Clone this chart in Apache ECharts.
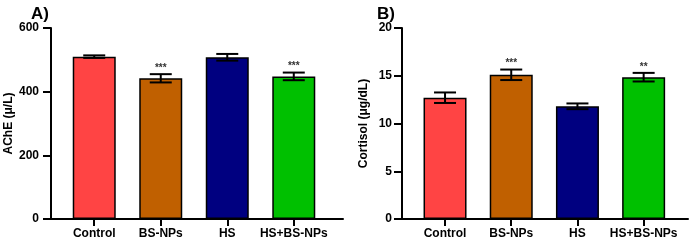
<!DOCTYPE html>
<html>
<head>
<meta charset="utf-8">
<script src="https://cdn.jsdelivr.net/npm/echarts@6/dist/echarts.min.js"></script>
<style>
  html, body { margin: 0; padding: 0; background: #fff; }
  #main { width: 690px; height: 242px; }
</style>
</head>
<body>
<div id="main"></div>
<script>
var categories = ["Control", "BS-NPs", "HS", "HS+BS-NPs"];
var barColors = ["#FF4444", "#C06000", "#000080", "#00C000"];

// A) AChE
var acheMean = [510, 442, 508, 448];
var acheErr = [4, 13, 10.5, 12];
var acheSig = ["", "***", "", "***"];
var acheTicks = [0, 200, 400, 600];

// B) Cortisol
var cortMean = [12.7, 15.1, 11.8, 14.85];
var cortErr = [0.55, 0.55, 0.3, 0.45];
var cortSig = ["", "***", "", "**"];
var cortTicks = [0, 5, 10, 15, 20];

var FONT = "Liberation Sans, Arial, sans-serif";
var positions = categories.map(function (c, i) { return i + 1; });

function barData(means) {
  return means.map(function (v, i) {
    return { value: [i + 1, v], itemStyle: { color: barColors[i] } };
  });
}
function errData(means, errs, sig) {
  return means.map(function (v, i) {
    return [i + 1, v - errs[i], v + errs[i], sig[i]];
  });
}

// error bar + significance stars
function errRender(params, api) {
  var x = api.value(0);
  var lo = api.coord([x, api.value(1)]);
  var hi = api.coord([x, api.value(2)]);
  var half = 11;
  var style = { stroke: "#000", lineWidth: 2 };
  var children = [
    { type: "line", shape: { x1: hi[0], y1: hi[1], x2: lo[0], y2: lo[1] }, style: style },
    { type: "line", shape: { x1: hi[0] - half, y1: hi[1], x2: hi[0] + half, y2: hi[1] }, style: style },
    { type: "line", shape: { x1: lo[0] - half, y1: lo[1], x2: lo[0] + half, y2: lo[1] }, style: style }
  ];
  var s = api.value(3);
  if (s) {
    children.push({
      type: "text",
      style: {
        text: s, x: hi[0], y: hi[1] - 1,
        align: "center", verticalAlign: "bottom",
        fill: "#333", font: "bold 10px " + FONT
      }
    });
  }
  return { type: "group", children: children };
}

function xAxisCfg(gridIndex, min, max) {
  return {
    type: "value", gridIndex: gridIndex, min: min, max: max,
    splitLine: { show: false },
    axisLine: { show: true, onZero: false, lineStyle: { color: "#000", width: 2 } },
    axisTick: { show: true, customValues: positions, length: 7, lineStyle: { color: "#000", width: 2 } },
    axisLabel: {
      customValues: positions, margin: 9,
      color: "#000", fontWeight: "bold", fontSize: 12, fontFamily: FONT,
      formatter: function (v) { return categories[Math.round(v) - 1] || ""; }
    }
  };
}
function yAxisCfg(gridIndex, name, ticks, gap, margin) {
  return {
    type: "value", gridIndex: gridIndex,
    min: ticks[0], max: ticks[ticks.length - 1], interval: ticks[1] - ticks[0],
    name: name, nameLocation: "middle", nameGap: gap,
    nameTextStyle: { color: "#000", fontWeight: "bold", fontSize: 12, fontFamily: FONT },
    splitLine: { show: false },
    axisLine: { show: true, lineStyle: { color: "#000", width: 2 } },
    axisTick: { show: true, inside: false, length: 8, lineStyle: { color: "#000", width: 2 } },
    axisLabel: { color: "#000", fontWeight: "bold", fontSize: 12, fontFamily: FONT, margin: margin }
  };
}

var chart = echarts.init(document.getElementById("main"), null, { renderer: "canvas" });
chart.setOption({
  animation: false,
  backgroundColor: "#fff",
  title: [
    { text: "A)", left: 26, top: 1, textStyle: { fontSize: 17, fontWeight: "bold", fontFamily: FONT, color: "#000" } },
    { text: "B)", left: 372, top: 1, textStyle: { fontSize: 17, fontWeight: "bold", fontFamily: FONT, color: "#000" } }
  ],
  grid: [
    { left: 51, right: 347, top: 28, bottom: 23 },
    { left: 402, right: 2, top: 28, bottom: 23 }
  ],
  xAxis: [xAxisCfg(0, 0.35, 4.74), xAxisCfg(1, 0.35, 4.67)],
  yAxis: [
    yAxisCfg(0, "AChE (μ/L)", acheTicks, 33, 12),
    yAxisCfg(1, "Cortisol (μg/dL)", cortTicks, 32, 10)
  ],
  series: [
    {
      type: "bar", xAxisIndex: 0, yAxisIndex: 0, barWidth: 43,
      itemStyle: { borderColor: "#000", borderWidth: 1.5 },
      data: barData(acheMean)
    },
    {
      type: "custom", xAxisIndex: 0, yAxisIndex: 0, renderItem: errRender, z: 5,
      data: errData(acheMean, acheErr, acheSig)
    },
    {
      type: "bar", xAxisIndex: 1, yAxisIndex: 1, barWidth: 43,
      itemStyle: { borderColor: "#000", borderWidth: 1.5 },
      data: barData(cortMean)
    },
    {
      type: "custom", xAxisIndex: 1, yAxisIndex: 1, renderItem: errRender, z: 5,
      data: errData(cortMean, cortErr, cortSig)
    }
  ]
});
</script>
</body>
</html>
